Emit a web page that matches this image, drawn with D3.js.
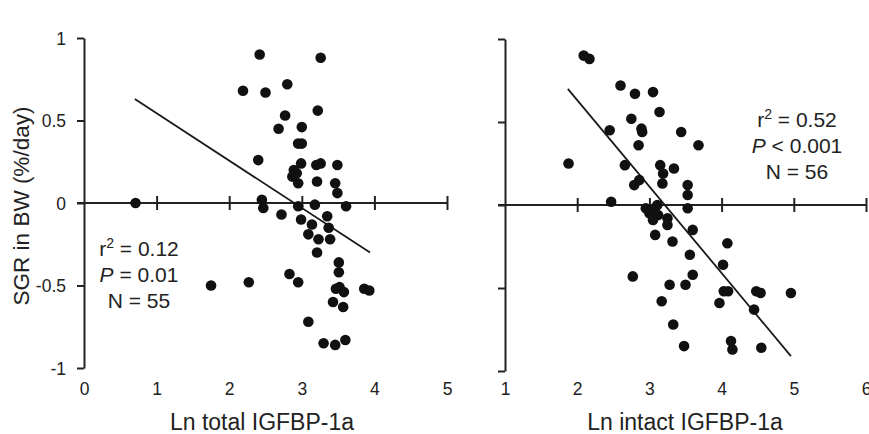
<!DOCTYPE html>
<html lang="en">
<head>
  <meta charset="utf-8">
  <title>SGR vs IGFBP-1a</title>
  <script src="https://d3js.org/d3.v7.min.js"></script>
  <style>
    body { margin: 0; background: #fff; }
    text { font-family: "Liberation Sans", Arial, sans-serif; fill: #222; }
    .dot { fill: #111; }
    .fit { stroke: #1a1a1a; stroke-width: 1.8; fill: none; }
    .axis path, .axis line { stroke: #222; stroke-width: 2; }
  </style>
</head>
<body>
<script>
// left panel: Ln total IGFBP-1a vs SGR
var totalX = [0.71, 1.75, 2.27, 2.42, 3.26, 2.19, 2.50, 2.80, 3.22, 2.77, 2.68, 3.00, 2.95, 3.00,
  2.40, 2.99, 3.20, 3.26, 3.49, 2.89, 2.93, 2.87, 2.95, 3.21, 3.46, 3.49,
  2.45, 2.47, 3.18, 2.95, 3.61, 2.72, 3.35, 2.99, 3.14, 3.37, 3.09, 3.23, 3.39, 3.21,
  3.51, 3.51, 2.83, 2.95, 3.47, 3.52, 3.58, 3.86, 3.93, 3.43, 3.57, 3.09, 3.30, 3.46, 3.60];
var totalY = [0.00, -0.50, -0.48, 0.90, 0.88, 0.68, 0.67, 0.72, 0.56, 0.53, 0.45, 0.46, 0.36, 0.36,
  0.26, 0.24, 0.23, 0.24, 0.23, 0.20, 0.18, 0.16, 0.12, 0.13, 0.12, 0.06,
  0.02, -0.03, -0.01, -0.02, -0.02, -0.07, -0.08, -0.10, -0.13, -0.15, -0.19, -0.22, -0.22, -0.30,
  -0.36, -0.42, -0.43, -0.48, -0.52, -0.51, -0.54, -0.52, -0.53, -0.60, -0.63, -0.72, -0.85, -0.86, -0.83];
var totalFitX = [0.70, 3.94];
var totalFitY = [0.63, -0.30];

// right panel: Ln intact IGFBP-1a vs SGR
var intactX = [2.09, 2.17, 2.60, 2.80, 3.05, 3.14, 2.75, 2.45, 2.89, 2.90, 3.44, 2.85, 3.68, 1.88,
  2.66, 3.15, 3.19, 3.34, 2.86, 2.79, 3.18, 3.53, 3.53, 2.47, 2.95, 3.07, 3.11, 3.00, 3.12,
  3.05, 3.25, 3.25, 3.08, 3.32, 2.77, 3.28, 3.17, 3.33, 3.53, 3.60, 4.08, 3.56, 4.02, 3.60,
  3.50, 4.03, 4.09, 4.48, 4.54, 4.96, 3.97, 4.45, 3.48, 4.13, 4.15, 4.55];
var intactY = [0.90, 0.88, 0.72, 0.67, 0.68, 0.56, 0.52, 0.45, 0.46, 0.44, 0.44, 0.36, 0.36, 0.25,
  0.24, 0.24, 0.19, 0.22, 0.15, 0.12, 0.13, 0.12, 0.06, 0.02, -0.02, -0.02, 0.00, -0.05, -0.06,
  -0.09, -0.08, -0.12, -0.18, -0.22, -0.43, -0.48, -0.58, -0.72, -0.02, -0.15, -0.23, -0.30, -0.36, -0.42,
  -0.48, -0.52, -0.52, -0.52, -0.53, -0.53, -0.59, -0.63, -0.85, -0.82, -0.87, -0.86];
var intactFitX = [1.87, 4.96];
var intactFitY = [0.70, -0.91];

var yTicks = [-1, -0.5, 0, 0.5, 1];
var totalTicks = [0, 1, 2, 3, 4, 5];
var intactTicks = [1, 2, 3, 4, 5, 6];

var width = 869;
var height = 434;

var svg = d3.select("body")
  .append("svg")
  .attr("width", width)
  .attr("height", height);

function panel(opts) {
  var x = d3.scaleLinear().domain(opts.xDomain).range(opts.xRange);
  var y = d3.scaleLinear().domain([-1, 1]).range(opts.yRange);
  var g = svg.append("g");

  // y axis, ticks pointing left
  var yAxis = d3.axisLeft(y)
    .tickValues(yTicks)
    .tickSize(7)
    .tickSizeOuter(0)
    .tickPadding(11)
    .tickFormat(opts.yLabels ? function(d) { return String(d); } : "");
  var ya = g.append("g")
    .attr("class", "axis")
    .attr("transform", "translate(" + x.range()[0] + ",0)")
    .call(yAxis);
  ya.selectAll("text").style("font-size", "17.5px").attr("dy", "0.36em");

  // horizontal line at y = 0 with crossing ticks
  var ticksOnLine = opts.xTicks.slice(1);
  var xa = g.append("g")
    .attr("class", "axis")
    .attr("transform", "translate(0," + (y(0) - 7) + ")")
    .call(d3.axisBottom(x).tickValues(ticksOnLine).tickSize(14).tickSizeOuter(0).tickFormat(""));
  xa.select(".domain").remove();
  g.append("line")
    .attr("x1", x.range()[0] - 7)
    .attr("x2", x.range()[1])
    .attr("y1", y(0))
    .attr("y2", y(0))
    .attr("stroke", "#222")
    .attr("stroke-width", 2);

  // tick labels under the plot
  var xl = g.append("g")
    .attr("transform", "translate(0,380)")
    .call(d3.axisBottom(x).tickValues(opts.xTicks).tickSize(0).tickFormat(function(d) { return String(d); }));
  xl.select(".domain").remove();
  xl.selectAll("text").style("font-size", "17.5px");

  // fit line
  g.append("line")
    .attr("class", "fit")
    .attr("x1", x(opts.fitX[0]))
    .attr("y1", y(opts.fitY[0]))
    .attr("x2", x(opts.fitX[1]))
    .attr("y2", y(opts.fitY[1]));

  // dots
  g.selectAll("circle")
    .data(opts.xs)
    .enter()
    .append("circle")
    .attr("class", "dot")
    .attr("cx", function(d) { return x(d); })
    .attr("cy", function(d, i) { return y(opts.ys[i]); })
    .attr("r", 5.3);

  // x title
  g.append("text")
    .attr("x", opts.titleX)
    .attr("y", 430)
    .attr("text-anchor", "middle")
    .style("font-size", "23px")
    .text(opts.title);

  // stats
  var st = g.append("text")
    .attr("text-anchor", "middle")
    .style("font-size", "21px");
  opts.stats.forEach(function(s, i) {
    var t = st.append("tspan")
      .attr("x", opts.statX)
      .attr("y", opts.statY + i * 26);
    s.forEach(function(part) {
      var p = t.append("tspan").text(part[0]);
      if (part[1] == "i") p.style("font-style", "italic");
      if (part[1] == "sup") p.attr("baseline-shift", "super").style("font-size", "14px");
    });
  });
}

panel({
  xDomain: [0, 5], xRange: [84, 447], yRange: [368, 38],
  xTicks: totalTicks, yLabels: true,
  xs: totalX, ys: totalY, fitX: totalFitX, fitY: totalFitY,
  title: "Ln total IGFBP-1a", titleX: 262,
  statX: 139, statY: 256,
  stats: [[["r", ""], ["2", "sup"], [" = 0.12", ""]], [["P", "i"], [" = 0.01", ""]], [["N = 55", ""]]]
});

panel({
  xDomain: [1, 6], xRange: [505, 866], yRange: [371, 39],
  xTicks: intactTicks, yLabels: false,
  xs: intactX, ys: intactY, fitX: intactFitX, fitY: intactFitY,
  title: "Ln intact IGFBP-1a", titleX: 685,
  statX: 797, statY: 127,
  stats: [[["r", ""], ["2", "sup"], [" = 0.52", ""]], [["P", "i"], [" < 0.001", ""]], [["N = 56", ""]]]
});

// shared y title
svg.append("text")
  .attr("transform", "translate(29,206) rotate(-90)")
  .attr("text-anchor", "middle")
  .style("font-size", "22.5px")
  .text("SGR in BW (%/day)");
</script>
</body>
</html>
